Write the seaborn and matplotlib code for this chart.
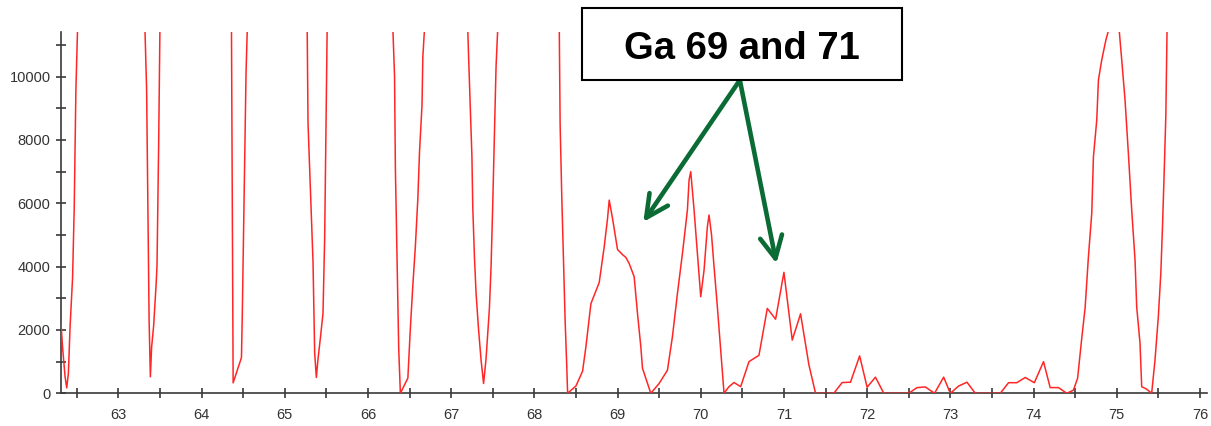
import matplotlib
matplotlib.use("Agg")
import matplotlib.pyplot as plt
import seaborn as sns
import pandas as pd
from matplotlib import font_manager
from matplotlib.patches import Rectangle
from matplotlib.ticker import MultipleLocator

# ---- data (m/z vs counts); values above 11400 are off-scale peaks ----
mass = [62.31, 62.33, 62.36, 62.38, 62.40, 62.42, 62.435, 62.45, 62.47, 62.49, 62.51,
        63.00,
        63.32, 63.34, 63.355, 63.37, 63.385, 63.40, 63.425, 63.44, 63.455, 63.465, 63.485, 63.50,
        64.00,
        64.36, 64.37, 64.38, 64.48, 64.49, 64.505, 64.52, 64.535, 64.55,
        65.00,
        65.27, 65.28, 65.30, 65.32, 65.34, 65.35, 65.36, 65.38, 65.40, 65.43, 65.46, 65.48, 65.50, 65.51,
        66.00,
        66.30, 66.32, 66.33, 66.35, 66.37, 66.39, 66.48, 66.51, 66.54, 66.57, 66.60, 66.62, 66.65, 66.66, 66.68,
        67.00,
        67.20, 67.21, 67.23, 67.25, 67.26, 67.28, 67.30, 67.33, 67.36, 67.39, 67.42, 67.46, 67.48, 67.50,
        67.52, 67.54, 67.56,
        68.00,
        68.30, 68.31, 68.33, 68.35, 68.37, 68.39, 68.40,
        68.50, 68.58, 68.62, 68.68, 68.72, 68.78, 68.84, 68.88, 68.90, 68.94, 69.00, 69.06, 69.10, 69.14,
        69.20, 69.24, 69.28, 69.30, 69.40, 69.50, 69.60, 69.66, 69.72, 69.78, 69.84, 69.86, 69.88, 69.92,
        69.96, 70.00, 70.04, 70.08, 70.10, 70.13, 70.16, 70.20, 70.24, 70.28, 70.34, 70.40, 70.48, 70.58,
        70.70, 70.80, 70.90, 71.00, 71.10, 71.20, 71.30, 71.38, 71.60, 71.70, 71.80, 71.91, 72.00, 72.10,
        72.20, 72.50, 72.60, 72.70, 72.81, 72.92, 73.00, 73.10, 73.20, 73.30, 73.60, 73.70, 73.80, 73.90,
        74.01, 74.12, 74.20, 74.30, 74.40, 74.48, 74.53, 74.58, 74.62, 74.66, 74.70, 74.72, 74.76, 74.78,
        74.82, 74.87, 74.90, 74.96, 75.03, 75.06, 75.10, 75.14, 75.18, 75.22, 75.24, 75.28, 75.30, 75.36,
        75.42, 75.46, 75.50, 75.53, 75.55, 75.57, 75.59, 75.60, 75.605, 75.62]

counts = [2240, 1450, 520, 170, 640, 2100, 2850, 3640, 5870, 9580, 11500,
          14000,
          11500, 9600, 5950, 2310, 520, 1450, 2150, 2800, 3480, 4030, 7920, 11500,
          14000,
          11500, 5870, 330, 1130, 2500, 5020, 7580, 10120, 11500,
          14000,
          11500, 8530, 7100, 5630, 4150, 2730, 1270, 500, 1080, 1780, 2530, 4900, 9260, 11500,
          14000,
          11500, 10000, 7110, 4310, 1410, 0, 480, 2050, 3420, 4630, 6150, 7620, 9100, 10630, 11500,
          14000,
          11500, 10630, 9050, 7470, 5890, 4310, 3150, 2000, 1050, 310, 1100, 2680, 4000, 5950,
          8200, 10320, 11500,
          14000,
          11500, 8500, 6200, 4300, 2310, 840, 0,
          230, 700, 1470, 2830, 3100, 3500, 4630, 5520, 6100, 5520, 4540, 4380, 4290, 4100,
          3680, 2520, 1470, 790, 0, 310, 730, 1790, 3150, 4410, 5790, 6740, 7000, 5790,
          4410, 3050, 3890, 5260, 5630, 5000, 4000, 2730, 1370, 0, 210, 340, 210, 1000,
          1200, 2680, 2340, 3820, 1680, 2510, 900, 0, 0, 340, 350, 1180, 190, 510,
          0, 0, 180, 200, 0, 510, 0, 230, 350, 0, 0, 335, 335, 500,
          335, 1000, 180, 180, 0, 100, 480, 1750, 2700, 4320, 5690, 7470, 8630, 9890,
          10530, 11160, 11450, 12500, 11450, 10530, 9260, 7570, 5790, 4210, 2730, 1580, 210, 130,
          0, 1050, 2420, 3790, 5260, 6940, 8740, 10630, 11500, 12500]

x_ticks = [63, 64, 65, 66, 67, 68, 69, 70, 71, 72, 73, 74, 75, 76]
y_ticks = [0, 2000, 4000, 6000, 8000, 10000]
annotation_text = "Ga 69 and 71"
arrow_tail = (70.47, 9890)
arrow_heads_mass = [69.31, 70.91]
arrow_heads_counts = [5410, 4100]

# ---- style ----
sns.set_style("ticks")
names = {f.name for f in font_manager.fontManager.ttflist}
narrow = "Liberation Sans Narrow" in names
base_font = "Liberation Sans Narrow" if narrow else "Liberation Sans"
plt.rcParams['font.family'] = [base_font, 'DejaVu Sans']
tick_size = 12 if narrow else 10.5
box_size = 32 if narrow else 27.5

W, H = 1211, 426
fig = plt.figure(figsize=(W / 100, H / 100), dpi=100)
fig.patch.set_facecolor("white")
ax = fig.add_axes([61 / W, 1 - 393.3 / H, (1207 - 61) / W, (393.3 - 32.3) / H])

df = pd.DataFrame({"mass": mass, "counts": counts})
sns.lineplot(data=df, x="mass", y="counts", ax=ax, estimator=None, sort=False,
             color="#ff2626", linewidth=1.1, zorder=3)

ax.set_xlim(62.311, 76.085)
ax.set_ylim(0, 11400)
ax.set_xlabel("")
ax.set_ylabel("")
ax.set_xticks(x_ticks)
ax.set_xticklabels([str(t) for t in x_ticks])
ax.xaxis.set_minor_locator(MultipleLocator(0.5))
ax.set_yticks(y_ticks)
ax.set_yticklabels([str(t) for t in y_ticks])
ax.yaxis.set_minor_locator(MultipleLocator(1000))

sns.despine(ax=ax)
for s in ("left", "bottom"):
    ax.spines[s].set_color("#3a3a3a")
    ax.spines[s].set_linewidth(1.2)
ax.tick_params(which="both", direction="inout", length=7, width=1.2, color="#3a3a3a")
ax.tick_params(axis="x", which="major", pad=7, labelsize=tick_size, labelcolor="#333333")
ax.tick_params(axis="y", which="major", pad=4, labelsize=tick_size, labelcolor="#333333")

# ---- annotation box and arrows ----
green = "#0b6b35"
rect = Rectangle((582 / W, 1 - 80 / H), (902 - 582) / W, (80 - 8.3) / H,
                 transform=fig.transFigure, facecolor="white", edgecolor="black",
                 linewidth=1.5, zorder=5)
fig.add_artist(rect)
fig.text(742 / W, 1 - 59.3 / H, annotation_text, ha="center", va="baseline",
         fontsize=box_size, fontweight="bold", color="black", zorder=6)

for xm, yc in zip(arrow_heads_mass, arrow_heads_counts):
    ax.annotate("", xy=(xm, yc), xytext=arrow_tail,
                arrowprops=dict(arrowstyle="->,head_length=1.6,head_width=0.8",
                                color=green, lw=3.3, shrinkA=0, shrinkB=0),
                zorder=6)

fig.savefig("out.png", dpi=100, facecolor="white")
print("narrow font:", narrow)
